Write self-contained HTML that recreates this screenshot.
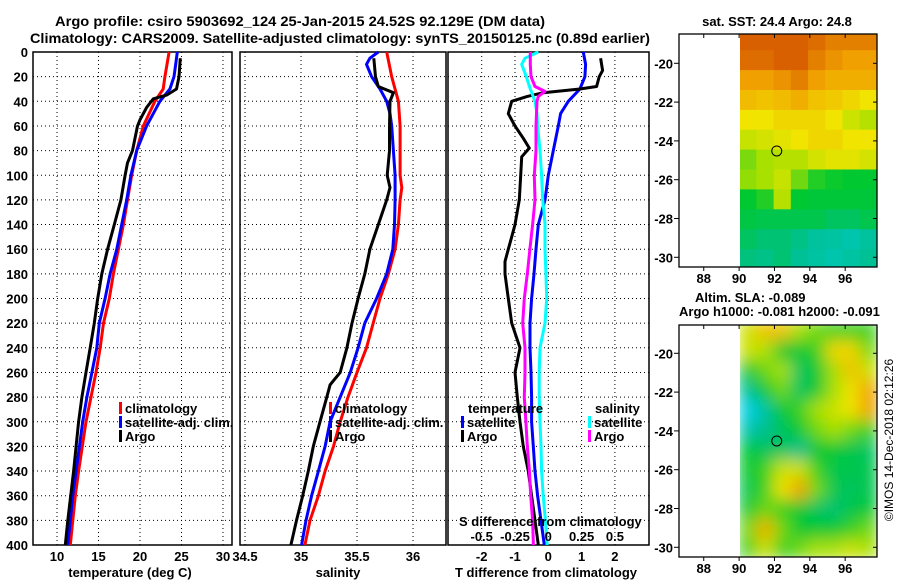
<!DOCTYPE html>
<html><head><meta charset="utf-8"><style>
html,body{margin:0;padding:0;background:#fff;}
svg{display:block;font-family:"Liberation Sans",Arial,sans-serif;font-weight:bold;}
</style></head><body>
<svg id="fig" width="900" height="580" viewBox="0 0 900 580" xmlns="http://www.w3.org/2000/svg">
<defs><filter id="blur" x="-0.1" y="-0.1" width="1.2" height="1.2"><feGaussianBlur stdDeviation="8" edgeMode="duplicate"/></filter>
<clipPath id="clipSla"><rect x="740" y="325" width="137" height="232"/></clipPath>
<clipPath id="clipSst"><rect x="740" y="34" width="137" height="233"/></clipPath></defs>
<text x="300" y="26" font-size="14" text-anchor="middle" textLength="490" lengthAdjust="spacingAndGlyphs">Argo profile: csiro 5903692_124 25-Jan-2015 24.52S 92.129E (DM data)</text>
<text x="340" y="43" font-size="14" text-anchor="middle" textLength="620" lengthAdjust="spacingAndGlyphs">Climatology: CARS2009. Satellite-adjusted climatology: synTS_20150125.nc (0.89d earlier)</text>
<g id="plots"></g>
</svg>
<script>
// ---------- data ----------
const depthTicks = [0,20,40,60,80,100,120,140,160,180,200,220,240,260,280,300,320,340,360,380,400];
const tempTicks = [10,15,20,25,30];
const salTicks = [34.5,35,35.5,36];
const tdiffTicks = [-2,-1,0,1,2];
const sdiffTicks = [-0.5,-0.25,0,0.25,0.5];
const sdiffLabels = ['-0.5','-0.25','0','0.25','0.5'];

const tempClimDepth = [0,20,30,40,60,80,100,120,140,160,180,200,220,240,260,280,300,320,340,360,380,400];
const tempClim = [23.5,23.0,22.8,21.8,20.4,19.6,19.0,18.5,18.0,17.4,16.8,16.3,15.6,15.2,14.7,14.1,13.5,13.05,12.6,12.2,11.9,11.6];
const tempSatDepth = [0,10,20,30,40,50,60,80,100,120,140,160,180,200,220,240,260,280,300,320,340,360,380,400];
const tempSat = [24.5,24.3,24.1,23.6,22.4,21.6,20.8,19.6,18.9,18.4,17.8,17.2,16.4,15.8,15.1,14.8,14.2,13.6,13.1,12.7,12.3,11.9,11.6,11.3];
const argoDepth = [5,20,30,35,38,45,55,60,80,90,100,120,140,160,180,200,220,240,260,280,300,320,340,360,380,400];
const tempArgo = [24.85,24.7,24.4,23.2,21.6,20.8,20.0,19.7,19.1,18.5,18.2,17.7,16.9,16.1,15.4,14.9,14.5,14.0,13.5,13.0,12.6,12.3,12.0,11.65,11.3,11.0];

const salClimDepth = [0,20,40,60,80,100,110,120,140,160,180,200,220,240,260,280,300,320,340,360,380,400];
const salClim = [35.765,35.81,35.87,35.885,35.885,35.885,35.9,35.885,35.87,35.84,35.78,35.705,35.645,35.585,35.5,35.42,35.35,35.29,35.215,35.155,35.08,35.035];
const salSatDepth = [0,5,10,20,30,40,50,60,80,100,120,140,160,180,200,220,240,260,280,300,320,340,360,380,400];
const salSat = [35.69,35.615,35.585,35.63,35.705,35.765,35.795,35.81,35.825,35.84,35.84,35.835,35.82,35.765,35.675,35.57,35.51,35.44,35.35,35.26,35.215,35.155,35.095,35.045,35.005];
const salArgoDepth = [5,20,28,33,40,60,80,100,110,120,140,160,180,200,220,240,260,270,280,300,320,340,360,380,400];
const salArgo = [35.65,35.665,35.69,35.825,35.795,35.79,35.79,35.77,35.795,35.765,35.69,35.615,35.57,35.51,35.455,35.41,35.35,35.26,35.23,35.17,35.11,35.065,35.015,34.96,34.91];

const tdSatDepth = [0,10,20,30,40,50,60,80,100,120,140,160,180,200,220,240,260,280,300,320,340,360,380,400];
const tdSat = [1.05,1.12,1.1,0.95,0.6,0.37,0.3,0.15,0,-0.1,-0.3,-0.37,-0.43,-0.5,-0.55,-0.55,-0.52,-0.5,-0.5,-0.45,-0.4,-0.32,-0.22,-0.12];
const tdArgoDepth = [5,15,20,28,30,33,36,40,50,60,70,78,85,100,120,140,150,160,170,180,200,220,240,260,280,300,320,340,360,380,400];
const tdArgo = [1.57,1.63,1.53,1.45,0.95,-0.15,-0.63,-1.1,-1.2,-1.0,-0.75,-0.57,-0.8,-0.83,-0.87,-1.0,-1.1,-1.2,-1.3,-1.3,-1.2,-1.1,-0.85,-1.0,-0.93,-0.85,-0.75,-0.6,-0.5,-0.4,-0.3];
const sdSatDepth = [0,5,10,20,30,40,50,60,80,100,120,130,140,160,180,200,220,240,260,280,300,320,340,360,380,400];
const sdSat = [-0.075,-0.175,-0.2,-0.165,-0.135,-0.1,-0.085,-0.08,-0.062,-0.05,-0.042,-0.032,-0.025,-0.025,-0.018,-0.012,-0.025,-0.062,-0.068,-0.068,-0.062,-0.055,-0.05,-0.038,-0.022,-0.008];
const sdArgoDepth = [0,10,20,28,32,36,40,60,80,100,120,140,160,180,200,220,240,260,280,300,320,340,360,380,400];
const sdArgo = [-0.135,-0.135,-0.13,-0.1,-0.025,-0.075,-0.085,-0.092,-0.092,-0.105,-0.1,-0.118,-0.138,-0.158,-0.18,-0.192,-0.175,-0.175,-0.18,-0.168,-0.158,-0.142,-0.132,-0.118,-0.112];

// map grids (colormap index 0..1), rows lat -18.5 .. -30.5, cols lon 90 .. 97.8
const latTicks = [-20,-22,-24,-26,-28,-30];
const lonTicks = [88,90,92,94,96];
const sstGrid = [
[0.9,0.9,0.9,0.9,0.88,0.85,0.85,0.85],
[0.88,0.88,0.9,0.9,0.85,0.82,0.8,0.8],
[0.8,0.8,0.82,0.85,0.8,0.78,0.78,0.78],
[0.76,0.75,0.76,0.78,0.75,0.74,0.72,0.7],
[0.7,0.7,0.72,0.72,0.72,0.7,0.65,0.62],
[0.64,0.66,0.68,0.7,0.72,0.72,0.7,0.7],
[0.56,0.6,0.62,0.62,0.66,0.68,0.68,0.66],
[0.58,0.6,0.64,0.55,0.48,0.46,0.45,0.45],
[0.45,0.48,0.62,0.45,0.44,0.44,0.44,0.44],
[0.43,0.42,0.42,0.42,0.42,0.4,0.4,0.42],
[0.4,0.38,0.38,0.36,0.33,0.32,0.3,0.33],
[0.37,0.36,0.38,0.34,0.32,0.3,0.32,0.34]];
const slaGrid = [
[0.65,0.75,0.75,0.6,0.55,0.5,0.5,0.5],
[0.65,0.62,0.45,0.45,0.5,0.72,0.72,0.55],
[0.45,0.55,0.6,0.4,0.45,0.6,0.75,0.65],
[0.35,0.45,0.55,0.4,0.45,0.6,0.7,0.8],
[0.2,0.32,0.45,0.5,0.6,0.65,0.7,0.8],
[0.3,0.35,0.4,0.45,0.55,0.6,0.55,0.5],
[0.45,0.4,0.4,0.35,0.45,0.45,0.42,0.4],
[0.45,0.5,0.65,0.65,0.5,0.42,0.42,0.42],
[0.42,0.5,0.7,0.8,0.55,0.42,0.4,0.42],
[0.45,0.55,0.5,0.45,0.4,0.38,0.42,0.45],
[0.55,0.78,0.55,0.45,0.45,0.45,0.5,0.55],
[0.5,0.65,0.5,0.55,0.6,0.6,0.65,0.6]];

// ---------- helpers ----------
const NS='http://www.w3.org/2000/svg';
const root=document.getElementById('plots');
function el(tag, attrs, parent){const e=document.createElementNS(NS,tag);for(const k in attrs)e.setAttribute(k,attrs[k]);(parent||root).appendChild(e);return e;}
const Y0=52, Y1=545;
const yD = d => Y0 + d*(Y1-Y0)/400;
function lin(d0,d1,r0,r1){return v=>r0+(v-d0)*(r1-r0)/(d1-d0);}
const xT = lin(10,30,57,223);
const xS = lin(34.5,36,245,413);
const xTd = lin(0,1,548.3,581.6);
const xSd = lin(0,0.25,548.3,581.6);

function panel(name,x0,x1,xf,ticks,labelFmt,showY){
  const g=el('g',{});
  
  
  depthTicks.forEach(d=>{ if(d>0&&d<400) el('line',{x1:x0,x2:x1,y1:yD(d),y2:yD(d),stroke:'#000','stroke-width':1,'stroke-dasharray':'1 3'},g);});
  ticks.forEach(t=>{const x=xf(t); if(x>x0+2&&x<x1-2) el('line',{x1:x,x2:x,y1:Y0,y2:Y1,stroke:'#000','stroke-width':1,'stroke-dasharray':'1 3'},g);});
  el('rect',{x:x0,y:Y0,width:x1-x0,height:Y1-Y0,fill:'none',stroke:'#000','stroke-width':1.5},g);
  ticks.forEach(t=>{const x=xf(t);const tx=el('text',{x:x,y:561,'font-size':13,'text-anchor':'middle'},g);tx.textContent=labelFmt(t);
    
    });
  if(showY){depthTicks.forEach(d=>{const tx=el('text',{x:28,y:yD(d)+5,'font-size':13,'text-anchor':'end'},g);tx.textContent=d;
    
    });}
  return g;
}
function series(g,name,depths,vals,xf,color){
  const pts=depths.map((d,i)=>xf(vals[i]).toFixed(1)+','+yD(d).toFixed(1)).join(' ');
  const p=el('polyline',{points:pts,fill:'none',stroke:color,'stroke-width':3,'stroke-linejoin':'round'},g);
  
  
}
function label(txt,x,y,size,anchor,name,parent){const t=el('text',{x:x,y:y,'font-size':size,'text-anchor':anchor||'start'},parent);t.textContent=txt;
  
  
  return t;}
function legendItem(g,color,txt,x,y,name){
  const r=el('rect',{x:x,y:y-11,width:3,height:12,fill:color},g);
  
  
  label(txt,x+6,y,13,'start',name,g);
}

// ---------- temperature ----------
const gT=panel('temperature-panel',33,232,xT,tempTicks,v=>v,true);
series(gT,'temp-climatology-line',tempClimDepth,tempClim,xT,'#f00');
series(gT,'temp-satellite-line',tempSatDepth,tempSat,xT,'#00f');
series(gT,'temp-argo-line',argoDepth,tempArgo,xT,'#000');
legendItem(gT,'#f00','climatology',119,413,'legend-climatology');
legendItem(gT,'#00f','satellite-adj. clim.',119,427,'legend-satellite-adj');
legendItem(gT,'#000','Argo',119,441,'legend-argo');
label('temperature (deg C)',130,577,13,'middle','temperature-axis-title');

// ---------- salinity ----------
const gS=panel('salinity-panel',240,446,xS,salTicks,v=>v,false);
series(gS,'sal-climatology-line',salClimDepth,salClim,xS,'#f00');
series(gS,'sal-satellite-line',salSatDepth,salSat,xS,'#00f');
series(gS,'sal-argo-line',salArgoDepth,salArgo,xS,'#000');
legendItem(gS,'#f00','climatology',329,413,'sal-legend-climatology');
legendItem(gS,'#00f','satellite-adj. clim.',329,427,'sal-legend-satellite-adj');
legendItem(gS,'#000','Argo',329,441,'sal-legend-argo');
label('salinity',338,577,13,'middle','salinity-axis-title');

// ---------- differences ----------
const gD=panel('difference-panel',448,649,xTd,tdiffTicks,v=>v,false);
series(gD,'tdiff-satellite-line',tdSatDepth,tdSat,xTd,'#00f');
series(gD,'tdiff-argo-line',tdArgoDepth,tdArgo,xTd,'#000');
series(gD,'sdiff-satellite-line',sdSatDepth,sdSat,xSd,'#0ff');
series(gD,'sdiff-argo-line',sdArgoDepth,sdArgo,xSd,'#f0f');
label('temperature',468,413,13,'start','legend-temperature-header',gD);
legendItem(gD,'#00f','satellite',461,427,'legend-t-satellite');
legendItem(gD,'#000','Argo',461,441,'legend-t-argo');
label('salinity',595,413,13,'start','legend-salinity-header',gD);
legendItem(gD,'#0ff','satellite',588,427,'legend-s-satellite');
legendItem(gD,'#f0f','Argo',588,441,'legend-s-argo');
label('S difference from climatology',459,526,13,'start','sdiff-axis-title',gD);
sdiffTicks.forEach((v,i)=>label(sdiffLabels[i],xSd(v),541,13,'middle','sdiff-tick-label',gD));
label('T difference from climatology',546,577,13,'middle','tdiff-axis-title');

// ---------- maps ----------
function cmap(v){
  const st=[[0,[0,0,200]],[0.2,[0,208,232]],[0.35,[0,192,144]],[0.45,[0,200,48]],[0.6,[168,224,0]],[0.7,[240,228,0]],[0.8,[240,160,0]],[0.9,[216,96,0]],[1,[224,0,0]]];
  for(let i=1;i<st.length;i++){if(v<=st[i][0]){const a=st[i-1],b=st[i],f=(v-a[0])/(b[0]-a[0]);return 'rgb('+a[1].map((c,k)=>Math.round(c+(b[1][k]-c)*f)).join(',')+')';}}
  return 'rgb(224,0,0)';
}
function drawMap(name,grid,yTop,yBot,latAt,blur){
  const g=el('g',{});
  
  
  const xl=lin(86.6,97.8,679,877);
  const wrap=el('g',{'clip-path':blur?'url(#clipSla)':'url(#clipSst)'},g);
  const cells=el('g',blur?{filter:'url(#blur)'}:{},wrap);
  const nr=grid.length,nc=grid[0].length;
  const lat0=-18.3, lat1=-30.6;
  grid.forEach((row,r)=>row.forEach((v,c)=>{
    const x0=xl(90+c*(7.8/nc)), x1=xl(90+(c+1)*(7.8/nc));
    const y0=latAt(lat0+(lat1-lat0)*r/nr), y1=latAt(lat0+(lat1-lat0)*(r+1)/nr);
    const rc=el('rect',{x:x0.toFixed(1),y:y0.toFixed(1),width:(x1-x0+0.5).toFixed(1),height:(y1-y0+0.5).toFixed(1),fill:cmap(v)},cells);
    
    
  }));
  el('rect',{x:679,y:yTop,width:198,height:yBot-yTop,fill:'none',stroke:'#000','stroke-width':1.3},g);
  latTicks.forEach(l=>{const y=latAt(l);el('line',{x1:674,x2:679,y1:y,y2:y,stroke:'#000'},g);el('line',{x1:873,x2:877,y1:y,y2:y,stroke:'#000'},g);
    label(String(l),673,y+5,13,'end','lat-tick-label',g);});
  lonTicks.forEach(l=>{const x=xl(l);el('line',{x1:x,x2:x,y1:yTop,y2:yTop+4,stroke:'#000'},g);el('line',{x1:x,x2:x,y1:yBot,y2:yBot+4,stroke:'#000'},g);
    label(String(l),x,yBot+16,13,'middle','lon-tick-label',g);});
  const c=el('ellipse',{cx:xl(92.129),cy:latAt(-24.52),rx:5,ry:5,fill:'none',stroke:'#000','stroke-width':1},g);
  
  
}
const latTop = lin(-20,-30,63.3,257.3);
const latBot = lin(-20,-30,353.3,547.3);
drawMap('sst-map',sstGrid,34,267,latTop,false);
drawMap('sla-map',slaGrid,325,557,latBot,true);
label('sat. SST: 24.4 Argo: 24.8',777,26,13,'middle','sst-map-title');
label('Altim. SLA: -0.089',695,302,13,'start','sla-value-label');
label('Argo h1000: -0.081 h2000: -0.091',679,316,13,'start','argo-height-label');
const cr=label('\u00a9IMOS 14-Dec-2018 02:12:26',0,0,12,'middle','timestamp-credit');
cr.setAttribute('font-weight','normal');
cr.setAttribute('transform','translate(893,440) rotate(-90)');
</script>
</body></html>
